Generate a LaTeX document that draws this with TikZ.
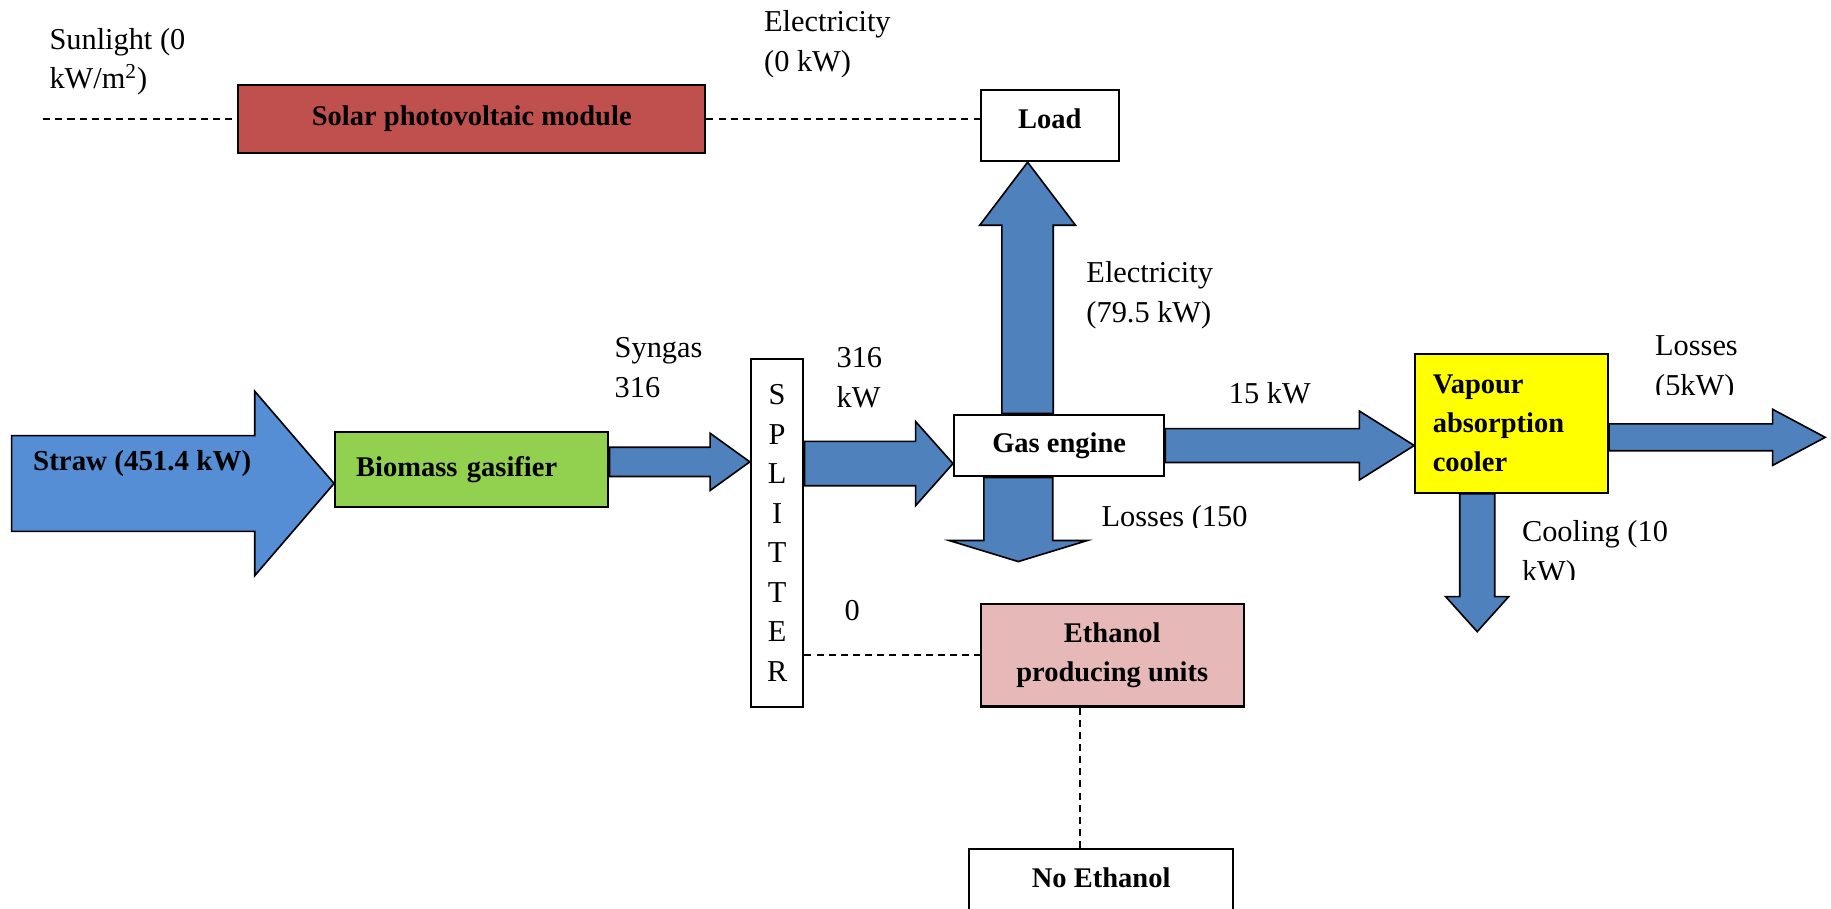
\documentclass[tikz,border=0pt]{standalone}
\usepackage{fontspec}
\setmainfont{Liberation Serif}
\usetikzlibrary{calc}

\definecolor{flowblue}{HTML}{4F81BD}
\definecolor{strawblue}{HTML}{558ED5}
\definecolor{pvred}{HTML}{C0504D}
\definecolor{gasgreen}{HTML}{92D050}
\definecolor{ethpink}{HTML}{E6B9B8}
\definecolor{coolyellow}{HTML}{FFFF00}

% Block arrow: [fill]{tail}{tip}{shaft half width}{head half width}{head length}
\newcommand\blockarrow[6][flowblue]{%
  \coordinate (ba-h) at ($(#3)!#6!(#2)$);
  \filldraw[fill=#1, draw=black, line width=0.7pt, line join=miter]
    ($(#2)!#4!90:(#3)$) -- ($(ba-h)!#4!90:(#3)$) -- ($(ba-h)!#5!90:(#3)$)
    -- (#3)
    -- ($(ba-h)!#5!-90:(#3)$) -- ($(ba-h)!#4!-90:(#3)$) -- ($(#2)!#4!-90:(#3)$)
    -- cycle;
}

\tikzset{
  box/.style={draw=black, line width=0.9pt, inner sep=0pt, align=center,
    font=\bfseries\fontsize{12.2}{16.5}\selectfont},
  lbl/.style={anchor=base west, inner sep=0pt, align=left,
    font=\fontsize{13}{17}\selectfont},
  dashlink/.style={draw=black, line width=0.6pt, dash pattern=on 3pt off 2.2pt},
}

\begin{document}
\begin{tikzpicture}[x=0.5pt, y=-0.5pt]
  \clip (0,0) rectangle (1568,778);
  \fill[white] (0,0) rectangle (1568,778);

  % process blocks
  \node[box, fill=pvred, minimum width=200pt, minimum height=29pt] (solar) at (404,102) {Solar photovoltaic module};
  \node[box, fill=white, minimum width=59pt, minimum height=30.5pt, text depth=6pt] (load) at (899,107.5) {Load};
  \node[box, fill=gasgreen, minimum width=117pt, minimum height=32pt, text width=99pt, align=left] (gasifier) at (404,402) {Biomass gasifier};
  \node[box, fill=white, minimum width=22.5pt, minimum height=149pt, font=\fontsize{13}{16.9}\selectfont] (split) at (665.5,456.5) {S\\P\\L\\I\\T\\T\\E\\R};
  \node[box, fill=white, minimum width=90pt, minimum height=26.5pt] (engine) at (907,381.5) {Gas engine};
  \node[box, fill=coolyellow, minimum width=82.5pt, minimum height=59.5pt, text width=67.5pt, align=left] (vapour) at (1294.5,362.5) {Vapour\\absorption\\cooler};
  \node[box, fill=ethpink, minimum width=112.5pt, minimum height=44pt] (ethanol) at (952.5,561) {Ethanol\\producing units};
  \node[box, fill=white, anchor=north, minimum width=113pt, text height=9.25pt, text depth=8pt, inner ysep=7.5pt] (noeth) at (943,726) {No Ethanol};

  % dashed links
  \coordinate (sunin) at (37,102);
  \draw[dashlink] (sunin) -- (solar.west);
  \draw[dashlink] (solar.east) -- (solar.east -| load.west);
  \draw[dashlink] (ethanol.west -| split.east) -- (ethanol.west);
  \coordinate (ethdrop) at ($(ethanol.south)+(-27.5,0)$);
  \draw[dashlink] (ethdrop) -- (ethdrop |- noeth.north);

  % energy flows
  \coordinate (strawtail) at (10,414);
  \coordinate (strawtip) at (strawtail -| gasifier.west);
  \blockarrow[strawblue]{strawtail}{strawtip}{20.5pt}{39.5pt}{34pt}
  \node[anchor=west, inner sep=0pt, font=\bfseries\fontsize{12.4}{15}\selectfont] (strawlbl) at (28,397) {Straw (451.4 kW)};

  \coordinate (g1) at ($(gasifier.east)+(0,-6.5)$);
  \coordinate (g2) at (g1 -| split.west);
  \blockarrow{g1}{g2}{6.25pt}{12.25pt}{17pt}

  \coordinate (e1) at ($(engine.west)+(0,15.5)$);
  \coordinate (s1) at (e1 -| split.east);
  \blockarrow{s1}{e1}{9.5pt}{18pt}{16pt}

  \coordinate (eu) at ($(engine.north)+(-27,0)$);
  \coordinate (lu) at (eu |- load.south);
  \blockarrow{eu}{lu}{11pt}{20.5pt}{27pt}

  \coordinate (ed) at ($(engine.south)+(-35,0)$);
  \coordinate (edend) at ($(ed)+(0,72)$);
  \blockarrow{ed}{edend}{14.75pt}{29.5pt}{9pt}

  \coordinate (vin) at (engine.east -| vapour.west);
  \blockarrow{engine.east}{vin}{7.25pt}{14.75pt}{23.5pt}

  \coordinate (vo) at ($(vapour.east)+(0,12)$);
  \coordinate (voend) at (1563,374.5);
  \blockarrow{vo}{voend}{5.75pt}{12pt}{22.5pt}

  \coordinate (vc) at ($(vapour.south)+(-29.5,0)$);
  \coordinate (vcend) at ($(vc)+(0,118)$);
  \blockarrow{vc}{vcend}{7.5pt}{13.5pt}{15pt}

  % flow labels (base anchor sits on the last line)
  \node[lbl] (sunlbl) at (42,76) {Sunlight (0\\kW/m\textsuperscript{2})};
  \node[lbl] (pvlbl) at (654,61) {Electricity\\(0 kW)};
  \node[lbl] (elbl) at (930,276) {Electricity\\(79.5 kW)};
  \node[lbl] (synlbl) at (526,340) {Syngas\\316};
  \node[lbl] (splbl) at (716,349) {316\\kW};
  \node[lbl] (vlbl) at (1052,345.6) {15 kW};
  \node[lbl] (zerolbl) at (723,531.6) {0};
  \begin{scope}
    \clip (930,400) rectangle (1120,451.5);
    \node[lbl] (losslbl) at (943,484.6) {Losses (150\\kW)};
  \end{scope}
  \begin{scope}
    \clip (1400,260) rectangle (1568,337.5);
    \node[lbl] (vlosslbl) at (1417,338.6) {Losses\\(5kW)};
  \end{scope}
  \begin{scope}
    \clip (1290,420) rectangle (1500,496.5);
    \node[lbl] (coollbl) at (1303,497.6) {Cooling (10\\kW)};
  \end{scope}
\end{tikzpicture}
\end{document}
